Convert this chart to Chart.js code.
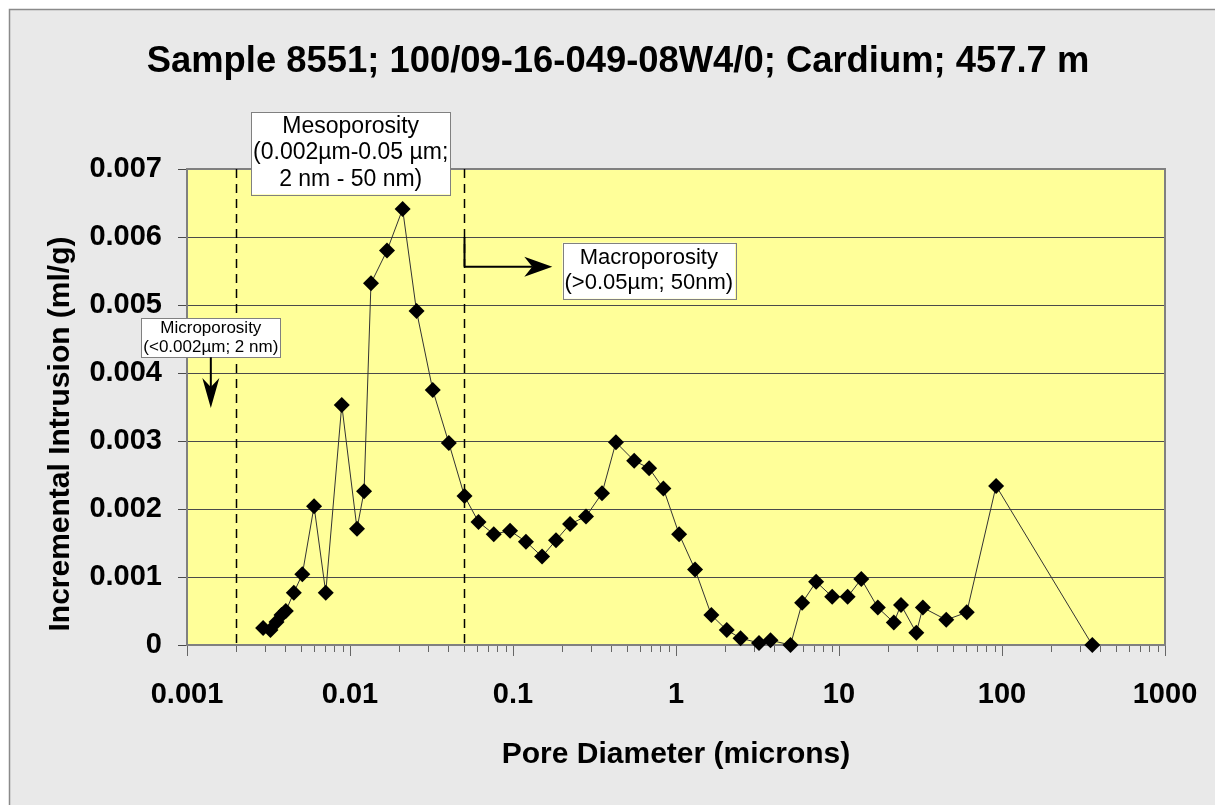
<!DOCTYPE html>
<html>
<head>
<meta charset="utf-8">
<title>Sample 8551 pore size distribution</title>
<script src="https://cdn.jsdelivr.net/npm/chart.js@4.4.1/dist/chart.umd.min.js"></script>
<style>
  html, body { margin: 0; padding: 0; background: #fff; }
  #wrap { width: 1215px; height: 805px; }
</style>
</head>
<body>
<div id="wrap"><canvas id="chart" width="1215" height="805"></canvas></div>
<script>
(function() {
    'use strict';

    const FONT = "'Liberation Sans', Arial, Helvetica, sans-serif";

    // pore diameter (microns)
    const poreDiameter = [
        0.00293, 0.00325, 0.00354, 0.0038, 0.00404, 0.00452, 0.0051, 0.00602, 0.0071, 0.0089,
        0.01104, 0.0122, 0.01345, 0.01687, 0.02103, 0.0256, 0.0322, 0.0404, 0.0504, 0.0614,
        0.0762, 0.0959, 0.120, 0.1507, 0.1835, 0.224, 0.2805, 0.3515, 0.428, 0.554,
        0.684, 0.837, 1.045, 1.309, 1.648, 2.048, 2.49, 3.23, 3.80, 5.04,
        5.94, 7.24, 9.08, 11.3, 13.7, 17.3, 21.7, 24.0, 29.8, 32.7,
        45.5, 60.8, 92.0, 358
    ];

    // incremental intrusion (ml/g)
    const intrusion = [
        0.00025, 0.00022, 0.00034, 0.00044, 0.00050, 0.00077, 0.00104, 0.00204, 0.00077, 0.00353,
        0.00171, 0.00226, 0.00532, 0.00580, 0.00641, 0.00491, 0.00375, 0.00297, 0.00219, 0.00181,
        0.00163, 0.00168, 0.00152, 0.00130, 0.00154, 0.00178, 0.00189, 0.00223, 0.00298, 0.00271,
        0.00260, 0.00230, 0.00163, 0.00111, 0.00044, 0.00022, 0.00010, 0.00003, 0.00007, 0.00000,
        0.00062, 0.00093, 0.00071, 0.00071, 0.00097, 0.00055, 0.00033, 0.00059, 0.00018, 0.00055,
        0.00037, 0.00048, 0.00234, 0.00000
    ];

    const xMajorValues = [0.001, 0.01, 0.1, 1, 10, 100, 1000];
    const xTickLabels = ['0.001', '0.01', '0.1', '1', '10', '100', '1000'];
    const yTickValues = [0, 0.001, 0.002, 0.003, 0.004, 0.005, 0.006, 0.007];
    const yTickLabels = ['0', '0.001', '0.002', '0.003', '0.004', '0.005', '0.006', '0.007'];

    // porosity class boundaries (microns)
    const boundaries = [0.002, 0.05];

    const titleText = 'Sample 8551; 100/09-16-049-08W4/0; Cardium; 457.7 m';
    const xTitle = 'Pore Diameter (microns)';
    const yTitle = 'Incremental Intrusion (ml/g)';

    // text boxes, anchored in data units (centre x, top y)
    const notes = [
        { lines: ['Mesoporosity', '(0.002\u00b5m-0.05 \u00b5m;', '2 nm - 50 nm)'], x: 0.0101, y: 0.00784, size: 23, lh: 26.5, pad: 1.5 },
        { lines: ['Macroporosity', '(>0.05\u00b5m; 50nm)'], x: 0.681, y: 0.005916, size: 22, lh: 25, pad: 3 },
        { lines: ['Microporosity', '(<0.002\u00b5m; 2 nm)'], x: 0.0014, y: 0.004804, size: 17, lh: 19.5, pad: 0 }
    ];

    // all log ticks: 1..9 x each decade
    const xTickValues = [];
    xMajorValues.forEach(function(d, i) {
        xTickValues.push(d);
        if (i < xMajorValues.length - 1) {
            for (let k = 2; k <= 9; k++) xTickValues.push(d * k);
        }
    });

    const points = poreDiameter.map((d, i) => ({ x: d, y: intrusion[i] }));

    function stealthArrow(ctx, x1, y1, x2, y2, len, half, notch) {
        const a = Math.atan2(y2 - y1, x2 - x1);
        const ux = Math.cos(a), uy = Math.sin(a);
        const px = -uy, py = ux;
        ctx.beginPath();
        ctx.moveTo(x1, y1);
        ctx.lineTo(x2 - ux * (len - notch), y2 - uy * (len - notch));
        ctx.stroke();
        ctx.beginPath();
        ctx.moveTo(x2, y2);
        ctx.lineTo(x2 - ux * len + px * half, y2 - uy * len + py * half);
        ctx.lineTo(x2 - ux * (len - notch), y2 - uy * (len - notch));
        ctx.lineTo(x2 - ux * len - px * half, y2 - uy * len - py * half);
        ctx.closePath();
        ctx.fill();
    }

    function drawNote(ctx, xs, ys, note) {
        ctx.font = note.size + 'px ' + FONT;
        const w = Math.max.apply(null, note.lines.map(t => ctx.measureText(t).width)) + 4;
        const h = note.lines.length * note.lh + note.pad * 2;
        const cx = xs.getPixelForValue(note.x);
        const top = ys.getPixelForValue(note.y);
        ctx.fillStyle = '#fff';
        ctx.fillRect(cx - w / 2, top, w, h);
        ctx.strokeStyle = '#808080';
        ctx.lineWidth = 1;
        ctx.strokeRect(Math.round(cx - w / 2) + 0.5, Math.round(top) + 0.5, Math.round(w), Math.round(h));
        ctx.fillStyle = '#000';
        ctx.textAlign = 'center';
        ctx.textBaseline = 'middle';
        note.lines.forEach(function(t, i) {
            ctx.fillText(t, cx, top + note.pad + note.lh * (i + 0.5));
        });
        return { cx: cx, top: top, bottom: top + h };
    }

    const backdrop = {
        id: 'backdrop',
        beforeDraw(chart) {
            const ctx = chart.ctx, a = chart.chartArea;
            ctx.save();
            ctx.fillStyle = '#fff';
            ctx.fillRect(0, 0, chart.width, chart.height);
            ctx.fillStyle = '#e9e9e9';
            ctx.fillRect(9, 9, chart.width, chart.height);
            ctx.strokeStyle = '#8a8a8a';
            ctx.lineWidth = 1.5;
            ctx.strokeRect(9.5, 9.5, chart.width + 10, chart.height + 10);
            ctx.fillStyle = '#ffff99';
            ctx.fillRect(a.left, a.top, a.right - a.left, a.bottom - a.top);
            ctx.restore();
        },
        beforeDatasetsDraw(chart) {
            const ctx = chart.ctx, a = chart.chartArea;
            const xs = chart.scales.x;
            ctx.save();
            // x tick marks
            ctx.strokeStyle = '#666';
            ctx.lineWidth = 1;
            xs.ticks.forEach(function(t) {
                const px = Math.round(xs.getPixelForValue(t.value)) + 0.5;
                const major = xMajorValues.indexOf(t.value) >= 0;
                ctx.beginPath();
                ctx.moveTo(px, a.bottom);
                ctx.lineTo(px, a.bottom + (major ? 11 : 7));
                ctx.stroke();
            });
            // plot border
            ctx.strokeStyle = '#808080';
            ctx.lineWidth = 2;
            ctx.strokeRect(a.left, a.top, a.right - a.left, a.bottom - a.top);
            // class boundaries
            ctx.strokeStyle = '#000';
            ctx.lineWidth = 1.5;
            ctx.setLineDash([9, 6]);
            boundaries.forEach(function(b) {
                const px = Math.round(xs.getPixelForValue(b)) + 0.5;
                ctx.beginPath();
                ctx.moveTo(px, a.top);
                ctx.lineTo(px, a.bottom);
                ctx.stroke();
            });
            ctx.restore();
        },
        afterDraw(chart) {
            const ctx = chart.ctx;
            const xs = chart.scales.x, ys = chart.scales.y;
            ctx.save();
            // main title
            ctx.fillStyle = '#000';
            ctx.font = 'bold 36.4px ' + FONT;
            ctx.textAlign = 'center';
            ctx.textBaseline = 'alphabetic';
            ctx.fillText(titleText, 618, 72);
            // y axis title
            ctx.save();
            ctx.translate(61, 434);
            ctx.rotate(-Math.PI / 2);
            ctx.font = 'bold 30px ' + FONT;
            ctx.textBaseline = 'middle';
            ctx.fillText(yTitle, 0, 0);
            ctx.restore();

            const boxes = notes.map(n => drawNote(ctx, xs, ys, n));

            ctx.strokeStyle = '#000';
            ctx.fillStyle = '#000';
            ctx.lineWidth = 2;
            ctx.setLineDash([]);
            // micro arrow, pointing down
            const mb = boxes[2];
            stealthArrow(ctx, mb.cx, mb.bottom, mb.cx, ys.getPixelForValue(0.003485), 30, 8.5, 9);
            // macro arrow, pointing right from the 0.05 boundary
            const bx = Math.round(xs.getPixelForValue(boundaries[1])) + 0.5;
            const ay = ys.getPixelForValue(0.005563);
            ctx.beginPath();
            ctx.moveTo(bx, ys.getPixelForValue(0.006));
            ctx.lineTo(bx, ay);
            ctx.stroke();
            stealthArrow(ctx, bx, ay, xs.getPixelForValue(0.1742), ay, 28, 10, 8);
            ctx.restore();
        }
    };

    const ctx = document.getElementById('chart');
    new Chart(ctx, {
        type: 'scatter',
        data: {
            datasets: [{
                data: points,
                showLine: true,
                borderColor: '#333',
                borderWidth: 1,
                pointStyle: 'rectRot',
                pointRadius: 8,
                pointBackgroundColor: '#000',
                pointBorderColor: '#000',
                pointBorderWidth: 0,
                clip: false
            }]
        },
        options: {
            responsive: false,
            animation: false,
            devicePixelRatio: 1,
            layout: { padding: { top: 169, right: 50, left: 0, bottom: 0 } },
            plugins: {
                legend: { display: false },
                tooltip: { enabled: false },
                title: { display: false }
            },
            scales: {
                x: {
                    type: 'logarithmic',
                    min: 0.001,
                    max: 1000,
                    afterBuildTicks: s => { s.ticks = xTickValues.map(v => ({ value: v })); },
                    afterFit: s => { s.height = 160; },
                    grid: { drawOnChartArea: false, drawTicks: true, tickLength: 30, tickColor: 'rgba(0,0,0,0)' },
                    border: { display: false },
                    ticks: {
                        autoSkip: false,
                        maxRotation: 0,
                        padding: 3,
                        color: '#000',
                        font: { family: FONT, size: 29, weight: 'bold' },
                        callback: function(v) {
                            const i = xMajorValues.indexOf(v);
                            return i >= 0 ? xTickLabels[i] : '';
                        }
                    },
                    title: {
                        display: true,
                        text: xTitle,
                        color: '#000',
                        font: { family: FONT, size: 30, weight: 'bold' },
                        padding: { top: 0, bottom: 32 }
                    }
                },
                y: {
                    min: 0,
                    max: 0.007,
                    afterBuildTicks: s => { s.ticks = yTickValues.map(v => ({ value: v })); },
                    afterFit: s => { s.width = 187; },
                    grid: { color: '#4a4a4a', lineWidth: 1, tickLength: 9 },
                    border: { display: false },
                    ticks: {
                        padding: 16,
                        color: '#000',
                        font: { family: FONT, size: 29, weight: 'bold' },
                        callback: (v, i) => yTickLabels[i]
                    }
                }
            }
        },
        plugins: [backdrop]
    });
})();
</script>
</body>
</html>
